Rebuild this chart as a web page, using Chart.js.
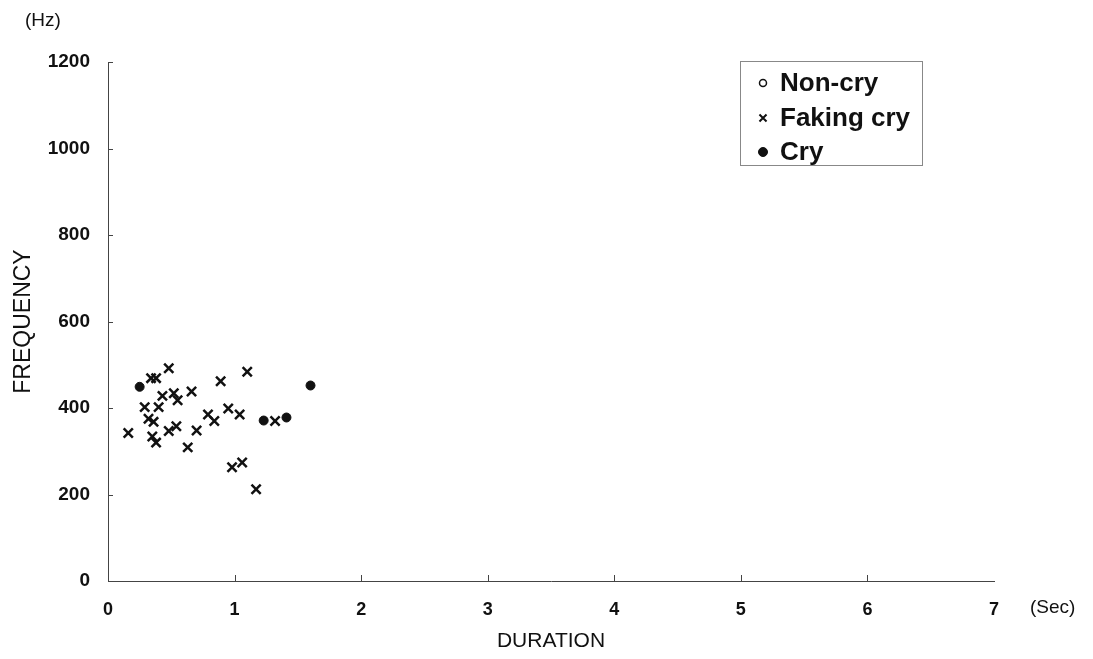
<!DOCTYPE html>
<html>
<head>
<meta charset="utf-8">
<script src="https://cdn.jsdelivr.net/npm/chart.js@4.4.0/dist/chart.umd.min.js"></script>
<style>
  html, body { margin: 0; padding: 0; background: #fff; }
  #wrap { width: 1093px; height: 659px; }
</style>
</head>
<body>
<div id="wrap"><canvas id="scatter" width="1093" height="659"></canvas></div>
<script>
// values
const seriesLabels = ["Non-cry", "Faking cry", "Cry"];

const nonCryDuration = [];
const nonCryFreq = [];

const fakingDuration = [0.48, 0.34, 0.38, 1.10, 0.89, 0.43, 0.52, 0.55, 0.66, 0.29, 0.40, 0.32, 0.36, 0.16,
    0.35, 0.38, 0.48, 0.54, 0.70, 0.63, 0.79, 0.84, 0.95, 1.04, 1.32, 0.98, 1.06, 1.17];
const fakingFreq = [492, 469, 469, 484, 462, 428, 434, 418, 438, 402, 402, 375, 368, 342,
    334, 320, 347, 358, 348, 309, 385, 370, 399, 385, 370, 263, 274, 212];

const cryDuration = [0.25, 1.23, 1.41, 1.60];
const cryFreq = [449, 371, 378, 452];

const xTicks = [0, 1, 2, 3, 4, 5, 6, 7];
const yTicks = [0, 200, 400, 600, 800, 1000, 1200];

const toPoints = (xs, ys) => xs.map((x, i) => ({ x: x, y: ys[i] }));

const ink = "#111";
const fontFamily = "'Liberation Sans', Arial, sans-serif";

// little tick marks pointing into the plot, plus (Hz)/(Sec) and the boxed legend
const paperPlugin = {
    id: "paper",
    afterDraw(chart) {
        const ctx = chart.ctx;
        const xs = chart.scales.x;
        const ys = chart.scales.y;
        ctx.save();
        ctx.strokeStyle = "#444";
        ctx.lineWidth = 1;
        xTicks.forEach(v => {
            if (v === 0 || v === xTicks[xTicks.length - 1]) return;
            const px = Math.round(xs.getPixelForValue(v)) + 0.5;
            ctx.beginPath();
            ctx.moveTo(px, ys.bottom);
            ctx.lineTo(px, ys.bottom - 6);
            ctx.stroke();
        });
        yTicks.forEach(v => {
            if (v === 0) return;
            const py = Math.round(ys.getPixelForValue(v)) + 0.5;
            ctx.beginPath();
            ctx.moveTo(xs.left, py);
            ctx.lineTo(xs.left + 5, py);
            ctx.stroke();
        });

        ctx.fillStyle = ink;
        ctx.font = "19px " + fontFamily;
        ctx.textBaseline = "middle";
        ctx.textAlign = "left";
        ctx.fillText("(Hz)", 25, 21);
        ctx.fillText("(Sec)", 1030, 608);

        // legend box
        ctx.strokeStyle = "#888";
        ctx.strokeRect(740.5, 61.5, 182, 104);
        const rowY = [83, 118, 152];
        const markerR = [3.5, 5, 4.5];
        const markerFill = ["#fff", ink, ink];
        const markerLine = [1.5, 2, 1];
        ctx.font = "bold 26px " + fontFamily;
        chart.data.datasets.forEach((ds, i) => {
            ctx.fillStyle = markerFill[i];
            ctx.strokeStyle = ink;
            ctx.lineWidth = markerLine[i];
            Chart.helpers.drawPoint(ctx, {
                pointStyle: ds.pointStyle,
                radius: markerR[i],
                borderWidth: markerLine[i]
            }, 763, rowY[i]);
            ctx.fillStyle = ink;
            ctx.fillText(ds.label, 780, rowY[i] + 1);
        });
        ctx.restore();
    }
};

const ctx = document.getElementById("scatter").getContext("2d");
new Chart(ctx, {
    type: "scatter",
    data: {
        datasets: [
            {
                label: seriesLabels[0],
                data: toPoints(nonCryDuration, nonCryFreq),
                pointStyle: "circle",
                pointRadius: 4,
                borderColor: ink,
                backgroundColor: "#fff",
                borderWidth: 1.5
            },
            {
                label: seriesLabels[1],
                data: toPoints(fakingDuration, fakingFreq),
                pointStyle: "crossRot",
                pointRadius: 6.5,
                borderColor: ink,
                backgroundColor: ink,
                borderWidth: 2.5
            },
            {
                label: seriesLabels[2],
                data: toPoints(cryDuration, cryFreq),
                pointStyle: "circle",
                pointRadius: 4.5,
                borderColor: ink,
                backgroundColor: ink,
                borderWidth: 1
            }
        ]
    },
    options: {
        responsive: false,
        animation: false,
        layout: { padding: { top: 62, right: 99, left: 0, bottom: 0 } },
        plugins: {
            legend: { display: false },
            tooltip: { enabled: false }
        },
        scales: {
            x: {
                type: "linear",
                min: 0,
                max: 7,
                afterBuildTicks: scale => { scale.ticks = xTicks.map(v => ({ value: v })); },
                afterFit: scale => { scale.height = 78; },
                grid: { display: false, drawTicks: false },
                border: { display: true, color: "#444", width: 1 },
                ticks: {
                    color: ink,
                    padding: 18,
                    maxRotation: 0,
                    callback: v => String(v),
                    font: { family: fontFamily, size: 18, weight: "bold" }
                },
                title: {
                    display: true,
                    text: "DURATION",
                    color: ink,
                    padding: { top: 0, bottom: 5 },
                    font: { family: fontFamily, size: 21 }
                }
            },
            y: {
                type: "linear",
                min: 0,
                max: 1200,
                afterBuildTicks: scale => { scale.ticks = yTicks.map(v => ({ value: v })); },
                afterFit: scale => { scale.width = 108; },
                grid: { display: false, drawTicks: false },
                border: { display: true, color: "#444", width: 1 },
                ticks: {
                    color: ink,
                    padding: 18,
                    callback: v => String(v),
                    font: { family: fontFamily, size: 19, weight: "bold" }
                },
                title: {
                    display: true,
                    text: "FREQUENCY",
                    color: ink,
                    padding: { top: 10, bottom: 0 },
                    font: { family: fontFamily, size: 23 }
                }
            }
        }
    },
    plugins: [paperPlugin]
});
</script>
</body>
</html>
